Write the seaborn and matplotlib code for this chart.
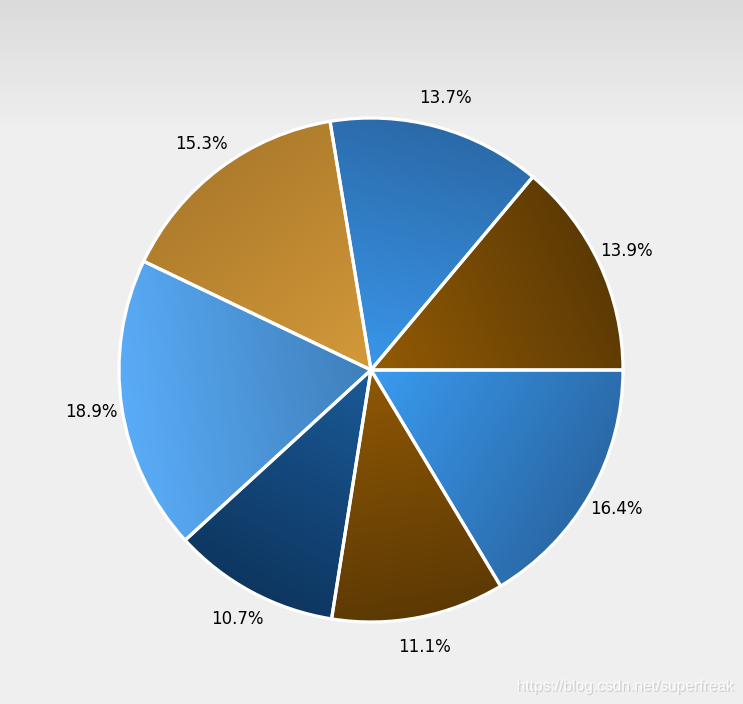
import numpy as np
import matplotlib.pyplot as plt
import seaborn as sns
from matplotlib.colors import ListedColormap
from matplotlib import patheffects as pe

# slice shares (percent), counter-clockwise from 3 o'clock
shares = [13.9, 13.7, 15.3, 18.9, 10.7, 11.1, 16.4]
labels = [f"{v:.1f}%" for v in shares]

# gradient colours: at the centre / at the rim
inner_colors = ["#935b04", "#3a96ea", "#d4993a", "#3f7fba", "#1a5a98", "#8f5804", "#3a9bf0"]
outer_colors = ["#5c3a04", "#2b6aa9", "#ae7c2c", "#5aacf8", "#0e3660", "#5c3904", "#2a68a6"]

sns.set_theme(style="white")
plt.rcParams["font.family"] = ["DejaVu Sans"]

W, H = 743, 704
fig = plt.figure(figsize=(W / 100, H / 100), dpi=100)

# background: grey band fading into light grey
bg = fig.add_axes([0, 0, 1, 1], zorder=0)
bg.axis("off")
rows = np.clip(np.arange(H) / 130.0, 0, 1)
bg_img = np.repeat(rows[:, None], W, axis=1)
bg_cmap = ListedColormap(sns.blend_palette(["#dbdbdb", "#efefef"], 256))
bg.imshow(bg_img, aspect="auto", cmap=bg_cmap, vmin=0, vmax=1,
          extent=(0, 1, 0, 1), origin="upper", interpolation="nearest")

# pie axes, radius 1 in data units = R pixels
cx, cy, R = 371, 370, 252
ax = fig.add_axes([0, 0, 1, 1], zorder=1)
ax.patch.set_alpha(0)

wedges, texts = ax.pie(
    shares, labels=labels, startangle=0, counterclock=True,
    labeldistance=1.12,
    wedgeprops=dict(edgecolor="white", linewidth=2.3),
    textprops=dict(fontsize=12, color="black"),
)
for t in texts:
    t.set_ha("center")
    t.set_va("center")

grid = np.linspace(-1, 1, 500)
X, Y = np.meshgrid(grid, grid)
for w, c0, c1 in zip(wedges, inner_colors, outer_colors):
    mid = np.deg2rad((w.theta1 + w.theta2) / 2)
    tval = np.clip(X * np.cos(mid) + Y * np.sin(mid), 0, 1)
    cmap = ListedColormap(sns.blend_palette([c0, c1], 256))
    im = ax.imshow(tval, extent=(-1, 1, -1, 1), origin="lower", cmap=cmap,
                   vmin=0, vmax=1, zorder=1, interpolation="bilinear")
    im.set_clip_path(w)
    w.set_facecolor("none")
    w.set_zorder(2)

ax.set_xlim(-cx / R, (W - cx) / R)
ax.set_ylim(-(H - cy) / R, cy / R)
ax.set_aspect("equal", adjustable="box")
ax.axis("off")

# watermark
fig.text(733 / W, 1 - 686 / H, "https://blog.csdn.net/superfreak",
         ha="right", va="center", fontsize=11.2, family="Liberation Sans",
         color="#fbfbfb",
         path_effects=[pe.withSimplePatchShadow(offset=(1, -1),
                                                shadow_rgbFace="#b5b5b5",
                                                alpha=0.55)])

fig.savefig("out.png", dpi=100)
